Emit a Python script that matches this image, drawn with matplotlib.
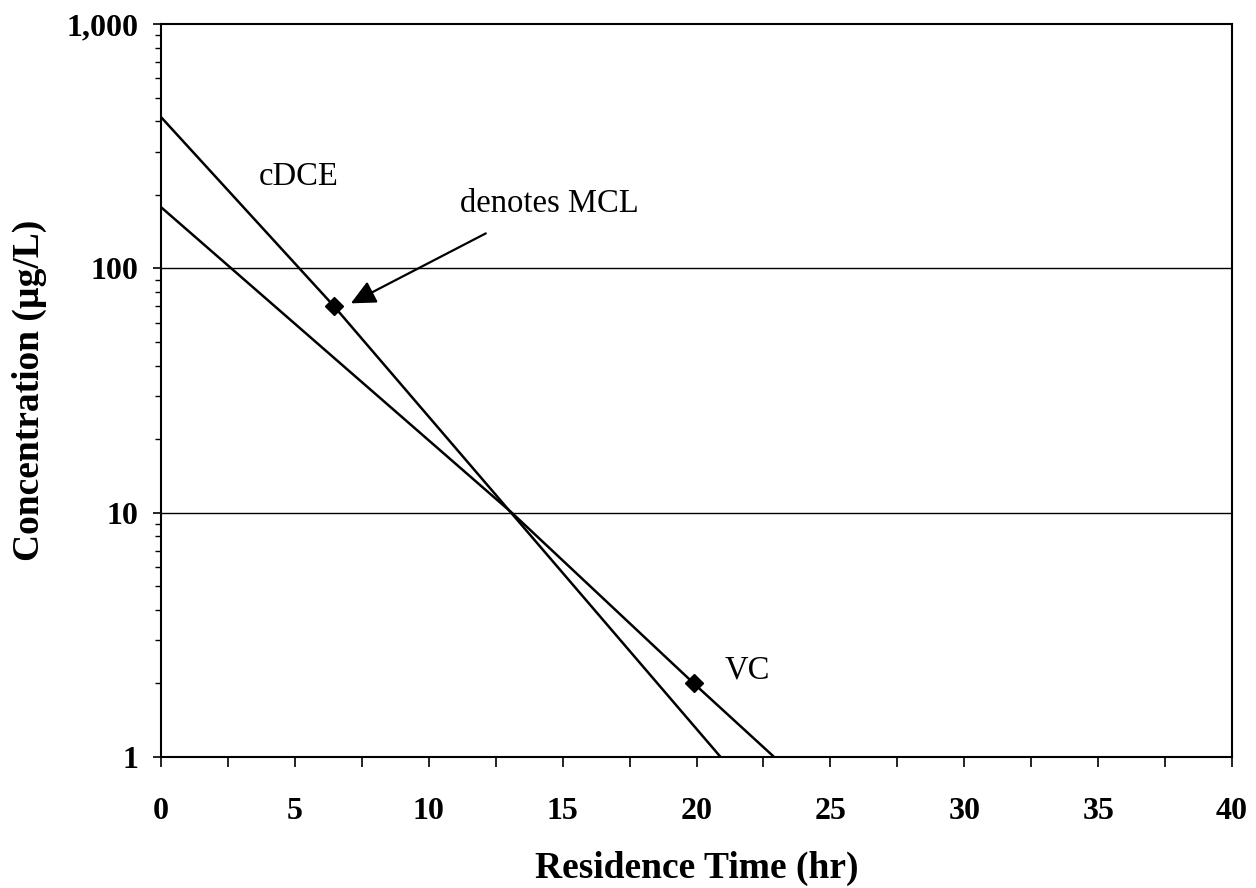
import numpy as np
import matplotlib
matplotlib.use("Agg")
import matplotlib.pyplot as plt
from matplotlib.ticker import FixedLocator, LogLocator, NullFormatter, FuncFormatter

# values
cdce_time = [0.0, 6.46, 20.9]
cdce_conc = [416.0, 70.0, 1.0]
vc_time = [0.0, 13.1, 19.9, 22.9]
vc_conc = [178.0, 10.0, 2.0, 1.0]

mcl_time = [6.46, 19.9]
mcl_conc = [70.0, 2.0]

x_major = [0, 5, 10, 15, 20, 25, 30, 35, 40]
y_major = [1, 10, 100, 1000]

SERIF = "Liberation Serif"

fig = plt.figure(figsize=(12.56, 8.88), dpi=100)
ax = fig.add_axes([161 / 1256, 1 - 757 / 888, 1071 / 1256, 733 / 888])

ax.set_yscale("log")
ax.set_xlim(0, 40)
ax.set_ylim(1, 1000)

ax.plot(cdce_time, cdce_conc, color="black", lw=1.8, solid_capstyle="butt")
ax.plot(vc_time, vc_conc, color="black", lw=1.8, solid_capstyle="butt")
ax.plot(mcl_time, mcl_conc, linestyle="none", marker="D", ms=9, color="black")

# horizontal gridlines at decades
for yv in y_major[1:-1]:
    ax.axhline(yv, color="black", lw=1.0, zorder=0)

ax.xaxis.set_major_locator(FixedLocator(x_major))
ax.xaxis.set_minor_locator(FixedLocator(np.arange(2.5, 40, 5)))
ax.yaxis.set_major_locator(FixedLocator(y_major))
ax.yaxis.set_minor_locator(LogLocator(base=10, subs=np.arange(2, 10)))
ax.yaxis.set_minor_formatter(NullFormatter())
ax.yaxis.set_major_formatter(FuncFormatter(lambda v, p: "{:,.0f}".format(v)))

ax.tick_params(axis="x", which="both", direction="out", length=7, width=1.2, pad=22)
ax.tick_params(axis="y", which="major", direction="out", length=6, width=1.2, pad=10.5)
ax.tick_params(axis="y", which="minor", direction="out", length=4, width=1.0)

for lab in ax.get_xticklabels() + ax.get_yticklabels():
    lab.set_fontfamily(SERIF)
    lab.set_fontweight("bold")
    lab.set_fontsize(23)

for sp in ax.spines.values():
    sp.set_linewidth(1.5)

ax.set_xlabel("Residence Time (hr)", fontfamily=SERIF, fontweight="bold", fontsize=27, labelpad=18)
ax.set_ylabel("Concentration (\u00b5g/L)", fontfamily=SERIF, fontweight="bold", fontsize=27, labelpad=14)

ax.text(5.13, 236, "cDCE", fontfamily=SERIF, fontsize=23.5, ha="center", va="center")
ax.text(21.9, 2.27, "VC", fontfamily=SERIF, fontsize=23.5, ha="center", va="center")
ax.annotate("", xy=(7.09, 71.9), xytext=(12.13, 139),
            arrowprops=dict(arrowstyle="-|>,head_length=0.75,head_width=0.36",
                            mutation_scale=20, color="black", lw=1.6,
                            shrinkA=0, shrinkB=0))
ax.text(14.5, 184, "denotes MCL", fontfamily=SERIF, fontsize=23.5, ha="center", va="center")

fig.savefig("out.png", dpi=100)
